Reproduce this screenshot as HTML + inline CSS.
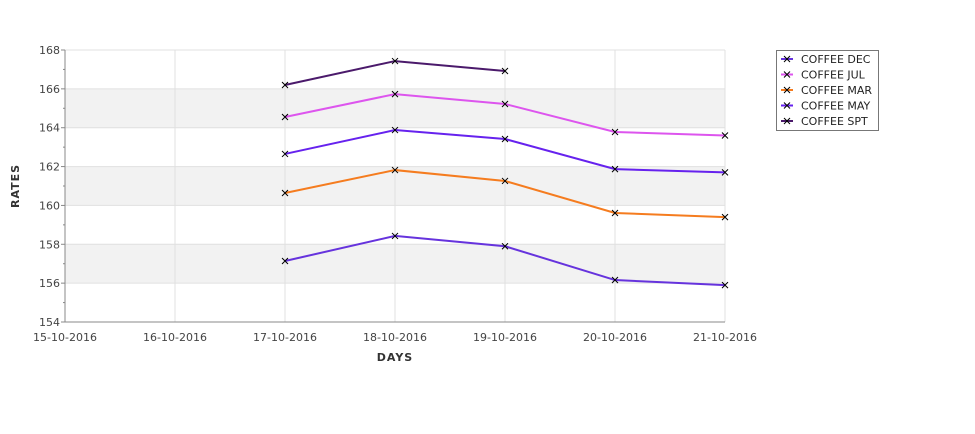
<!DOCTYPE html>
<html><head><meta charset="utf-8"><style>
body{margin:0;background:#fff;}
svg text{font-family:"DejaVu Sans","Liberation Sans",sans-serif;}
</style></head><body>
<svg id="chart" width="975" height="429" xmlns="http://www.w3.org/2000/svg">
<g id="bands"></g><g id="grid"></g><g id="axes"></g><g id="series"></g>
<text x="395" y="361" text-anchor="middle" font-size="11" font-weight="bold" fill="#333" letter-spacing="1">DAYS</text>
<text transform="translate(19,186) rotate(-90)" text-anchor="middle" font-size="11" font-weight="bold" fill="#333" letter-spacing="1">RATES</text>
<g id="legend"></g>
</svg>
<script>
const categories=["15-10-2016","16-10-2016","17-10-2016","18-10-2016","19-10-2016","20-10-2016","21-10-2016"];
const yTicks=[154,156,158,160,162,164,166,168];
const seriesNames=["COFFEE DEC","COFFEE JUL","COFFEE MAR","COFFEE MAY","COFFEE SPT"];
const seriesColors=["#6633dd","#dd55ee","#f57c1f","#6622ee","#4b1a6b"];
const decValues=[null,null,157.14,158.43,157.9,156.16,155.9];
const julValues=[null,null,164.55,165.73,165.22,163.78,163.6];
const marValues=[null,null,160.64,161.82,161.26,159.61,159.4];
const mayValues=[null,null,162.65,163.88,163.42,161.87,161.7];
const sptValues=[null,null,166.2,167.43,166.92,null,null];
const allValues=[decValues,julValues,marValues,mayValues,sptValues];
const NS="http://www.w3.org/2000/svg";
const L=65,R=725,T=50,B=322,ymin=154,ymax=168;
const xs=i=>L+i*(R-L)/(categories.length-1);
const ys=v=>B-(v-ymin)*(B-T)/(ymax-ymin);
function mk(tag,attrs,parent){const e=document.createElementNS(NS,tag);for(const k in attrs)e.setAttribute(k,attrs[k]);parent.appendChild(e);return e;}
const bands=document.getElementById('bands'),grid=document.getElementById('grid'),axes=document.getElementById('axes'),ser=document.getElementById('series'),leg=document.getElementById('legend');
for(let v=156;v<ymax;v+=4){const r=mk('rect',{x:L,y:ys(v+2),width:R-L,height:ys(v)-ys(v+2),fill:'#f2f2f2'},bands);

}
yTicks.forEach(v=>{const l=mk('line',{x1:L,x2:R,y1:ys(v),y2:ys(v),stroke:'#e0e0e0'},grid);


const t=mk('text',{x:L-5,y:ys(v)+4,'text-anchor':'end','font-size':'11',fill:'#444'},axes);t.textContent=v;


mk('line',{x1:L-4,x2:L,y1:ys(v),y2:ys(v),stroke:'#888'},axes);
if(v<ymax)mk('line',{x1:L-2,x2:L,y1:ys(v+1),y2:ys(v+1),stroke:'#888'},axes);});
categories.forEach((c,i)=>{const l=mk('line',{x1:xs(i),x2:xs(i),y1:T,y2:B,stroke:'#e0e0e0'},grid);


const t=mk('text',{x:xs(i),y:B+19,'text-anchor':'middle','font-size':'11',fill:'#444'},axes);t.textContent=c;

});
mk('line',{x1:L,x2:L,y1:T,y2:B,stroke:'#888'},axes);
mk('line',{x1:L,x2:R,y1:B,y2:B,stroke:'#888'},axes);
function cross(x,y,p){mk('path',{d:`M${x-3},${y-3}L${x+3},${y+3}M${x-3},${y+3}L${x+3},${y-3}`,stroke:'#000','stroke-width':1},p);}
allValues.forEach((vals,si)=>{const g=mk('g',{},ser);


let d='';vals.forEach((v,i)=>{if(v==null)return;d+=(d?'L':'M')+xs(i)+','+ys(v);});
const p=mk('path',{d:d,fill:'none',stroke:seriesColors[si],'stroke-width':2},g);


vals.forEach((v,i)=>{if(v!=null)cross(xs(i),ys(v),g);});});
mk('rect',{x:776.5,y:50.5,width:102,height:80,fill:'#fff',stroke:'#777'},leg);
seriesNames.forEach((n,i)=>{const y=59+i*15.5;const g=mk('g',{},leg);


mk('line',{x1:781,x2:793,y1:y,y2:y,stroke:seriesColors[i],'stroke-width':2},g);cross(787,y,g);
const t=mk('text',{x:801,y:y+4,'font-size':'11',fill:'#222'},g);t.textContent=n;});
</script>
</body></html>
